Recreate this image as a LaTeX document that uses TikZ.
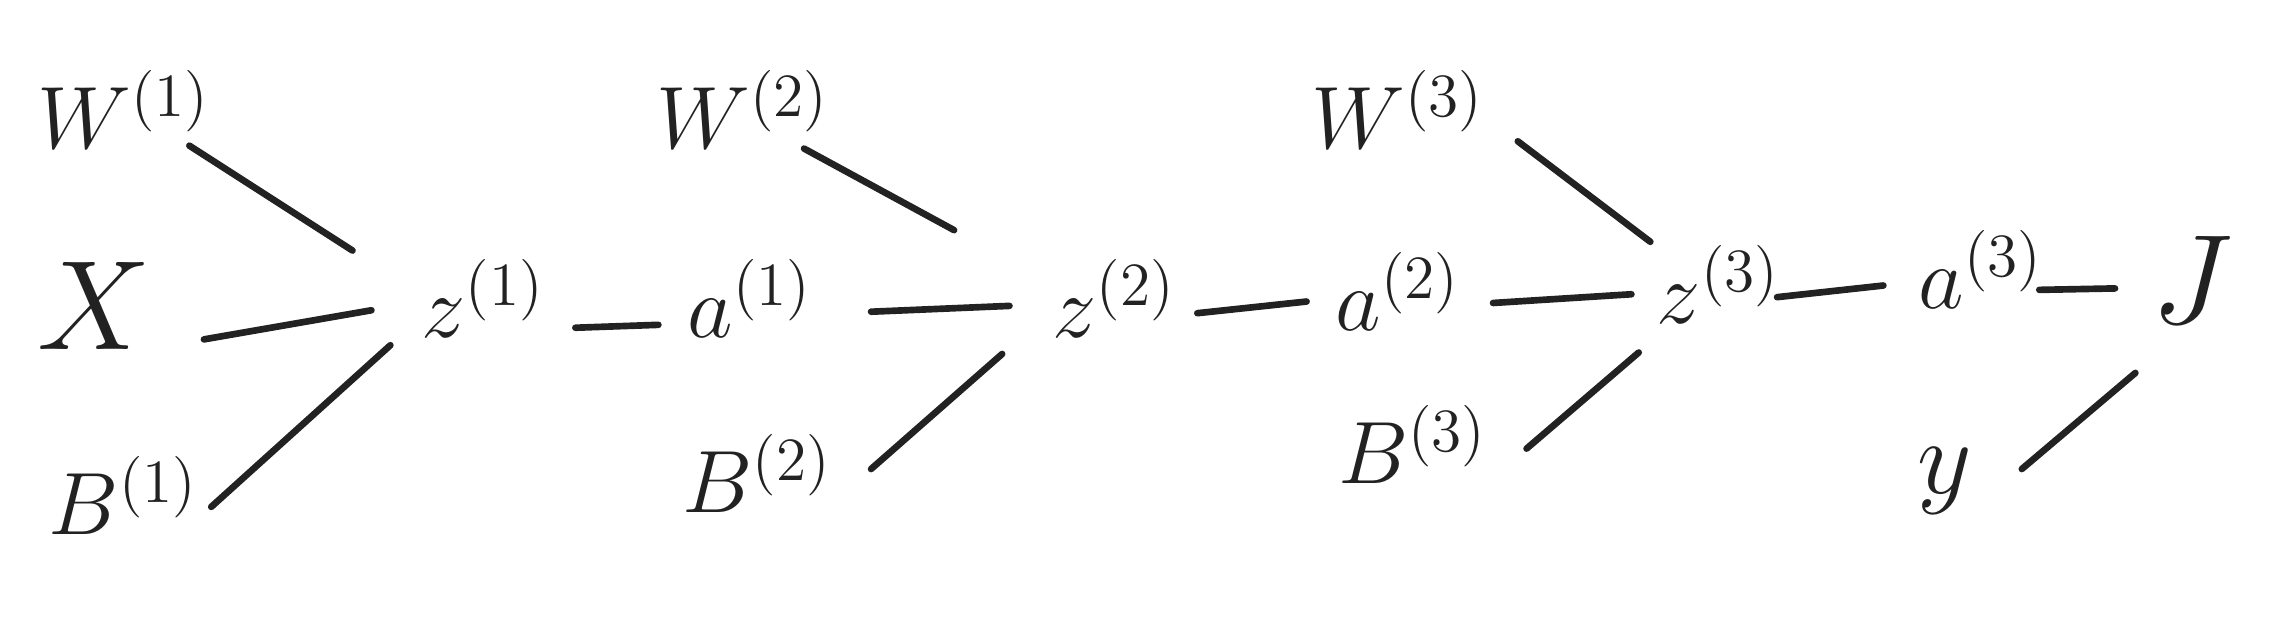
\documentclass[tikz,border=0pt]{standalone}
\usepackage{amsmath}
\usetikzlibrary{calc}
\definecolor{ink}{HTML}{222222}
\begin{document}
\begin{tikzpicture}[x=0.01cm,y=-0.01cm,
  lbl/.style={inner sep=0pt, text=ink, font=\fontsize{18}{22}\selectfont},
  big/.style={inner sep=0pt, text=ink, font=\fontsize{36}{40}\selectfont},
  wire/.style={draw=ink, line width=1.3pt, line cap=round}]
\useasboundingbox (0,0) rectangle (1568,442);
\node[lbl] (w1) at (85,75) {$W^{(1)}$};
\node[big] (x) at (65,210) {$X$};
\node[lbl] (b1) at (85,340) {$B^{(1)}$};
\node[lbl] (z1) at (332,205) {$z^{(1)}$};
\node[lbl] (a1) at (515,205) {$a^{(1)}$};
\node[lbl] (w2) at (510,75) {$W^{(2)}$};
\node[lbl] (b2) at (520,325) {$B^{(2)}$};
\node[lbl] (z2) at (765,205) {$z^{(2)}$};
\node[lbl] (a2) at (960,200) {$a^{(2)}$};
\node[lbl] (w3) at (960,75) {$W^{(3)}$};
\node[lbl] (b3) at (970,305) {$B^{(3)}$};
\node[lbl] (z3) at (1180,195) {$z^{(3)}$};
\node[lbl] (a3) at (1360,185) {$a^{(3)}$};
\node[big, font=\fontsize{30}{34}\selectfont] (j) at (1505,192) {$J$};
\node[lbl, font=\fontsize{22}{26}\selectfont] (y) at (1335,330) {$y$};

\draw[wire] ($(w1)+(45,25)$) -- ($(z1)+(-90,-33)$);
\draw[wire] ($(x)+(75,23)$) -- ($(z1)+(-77,8)$);
\draw[wire] ($(b1)+(60,8)$) -- ($(z1)+(-64,32)$);
\draw[wire] ($(z1)+(63,20)$) -- ($(a1)+(-63,18)$);
\draw[wire] ($(a1)+(83,9)$) -- ($(z2)+(-72,5)$);
\draw[wire] ($(w2)+(42,27)$) -- ($(z2)+(-110,-47)$);
\draw[wire] ($(b2)+(78,-3)$) -- ($(z2)+(-77,38)$);
\draw[wire] ($(z2)+(57,10)$) -- ($(a2)+(-63,7)$);
\draw[wire] ($(a2)+(65,8)$) -- ($(z3)+(-60,7)$);
\draw[wire] ($(w3)+(82,22)$) -- ($(z3)+(-47,-29)$);
\draw[wire] ($(b3)+(78,3)$) -- ($(z3)+(-55,47)$);
\draw[wire] ($(z3)+(40,9)$) -- ($(a3)+(-67,11)$);
\draw[wire] ($(a3)+(40,14)$) -- ($(j)+(-53,6)$);
\draw[wire] ($(y)+(53,-8)$) -- ($(j)+(-39,64)$);
\end{tikzpicture}
\end{document}
